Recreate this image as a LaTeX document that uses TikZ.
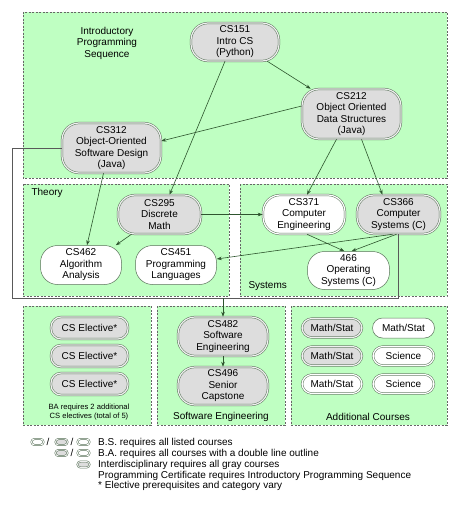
\documentclass[tikz,border=0pt]{standalone}
\usepackage{fontspec}
\setmainfont{Liberation Sans}
\usetikzlibrary{arrows.meta}
\definecolor{zonegreen}{HTML}{BFFFC2}
\definecolor{coursegray}{HTML}{DDDDDD}
\definecolor{outline}{HTML}{5A735A}
\definecolor{prereq}{HTML}{2E552E}
\begin{document}
\begin{tikzpicture}[x=1pt, y=-1pt,
		font=\fontsize{10}{11.5}\selectfont,
		zone/.style={fill=zonegreen, draw=black!60, line width=0.8pt, dash pattern=on 2pt off 1.5pt},
		course/.style={draw=outline, line width=0.5pt, rounded corners=17pt, align=center, inner sep=0pt},
		plain/.style={course, fill=white},
		core/.style={course, fill=coursegray, double=coursegray!45, double distance=1.2pt},
		twin/.style={course, fill=white, double=white, double distance=1.2pt},
		small/.style={rounded corners=10pt},
		icon/.style={rounded corners=3pt, minimum width=12pt, minimum height=6pt, double distance=0.9pt},
		prereq/.style={draw=prereq, line width=0.6pt, -{Stealth[length=5pt, width=3.6pt]}},
		route/.style={draw=black!65, line width=0.9pt}]
	\useasboundingbox (0,0) rectangle (474,508);

	\draw[zone] (23,12) rectangle (447,178);
	\draw[zone] (23,184) rectangle (229,296);
	\draw[zone] (240,184) rectangle (447,296);
	\draw[zone] (23,306) rectangle (151,425);
	\draw[zone] (157,306) rectangle (285,425);
	\draw[zone] (291,306) rectangle (447,425);

	\node[align=center] (introlbl) at (107,43) {Introductory\\Programming\\Sequence};
	\node[anchor=west] (theorylbl) at (28,193) {Theory};
	\node[anchor=west] (syslbl) at (245,286) {Systems};
	\node[align=center, font=\fontsize{7.6}{9.5}\selectfont] (banote) at (89,412) {BA requires 2 additional\\CS electives (total of 5)};
	\node (selbl) at (221,417) {Software Engineering};
	\node (addlbl) at (368,417) {Additional Courses};

	\node[core, minimum width=88pt, minimum height=38pt] (cs151) at (235,42) {CS151\\Intro CS\\(Python)};
	\node[core, minimum width=99pt, minimum height=50pt] (cs212) at (351.5,114) {CS212\\Object Oriented\\Data Structures\\(Java)};
	\node[core, minimum width=99pt, minimum height=50pt] (cs312) at (111.5,148) {CS312\\Object-Oriented\\Software Design\\(Java)};
	\node[core, minimum width=83pt, minimum height=39pt] (cs295) at (159.5,214.5) {CS295\\Discrete\\Math};
	\node[twin, minimum width=82pt, minimum height=39pt] (cs371) at (304,214.5) {CS371\\Computer\\Engineering};
	\node[core, minimum width=83pt, minimum height=39pt] (cs366) at (398.5,214.5) {CS366\\Computer\\Systems (C)};
	\node[plain, minimum width=81pt, minimum height=39pt] (cs462) at (81,265) {CS462\\Algorithm\\Analysis};
	\node[plain, minimum width=81pt, minimum height=39pt] (cs451) at (176,265) {CS451\\Programming\\Languages};
	\node[plain, minimum width=82pt, minimum height=38pt] (os466) at (348.5,270.5) {466\\Operating\\Systems (C)};

	\foreach \y [count=\i] in {328,356,384} {
		\node[core, small, minimum width=77pt, minimum height=22pt] (elective\i) at (89.5,\y) {CS Elective*};
	}

	\node[core, minimum width=90pt, minimum height=39pt] (cs482) at (223,336.5) {CS482\\Software\\Engineering};
	\node[core, minimum width=90pt, minimum height=38pt] (cs496) at (223,386) {CS496\\Senior\\Capstone};

	\node[core, small, minimum width=60pt, minimum height=19pt] (math1) at (332,328) {Math/Stat};
	\node[core, small, minimum width=60pt, minimum height=19pt] (math2) at (332,356) {Math/Stat};
	\node[twin, small, minimum width=60pt, minimum height=19pt] (math3) at (332,384) {Math/Stat};
	\node[plain, small, minimum width=62pt, minimum height=20pt] (math4) at (403.5,328) {Math/Stat};
	\node[twin, small, minimum width=61pt, minimum height=19pt] (sci1) at (403.5,356) {Science};
	\node[twin, small, minimum width=61pt, minimum height=19pt] (sci2) at (403.5,384) {Science};

	\draw[prereq] ([xshift=-12pt]cs151.south east) -- ([xshift=9pt]cs212.north west);
	\draw[prereq] ([xshift=-10pt]cs151.south) -- ([xshift=10pt]cs295.north);
	\draw[prereq] ([yshift=8pt]cs212.west) -- ([yshift=7pt]cs312.east);
	\draw[prereq] ([xshift=-15pt]cs212.south) -- ([xshift=3pt]cs371.north);
	\draw[prereq] ([xshift=10pt]cs212.south) -- ([xshift=-16pt]cs366.north);
	\draw[prereq] ([xshift=-8pt]cs312.south) -- ([xshift=6pt]cs462.north);
	\draw[prereq] ([xshift=-28pt]cs295.south) -- ([xshift=-6pt]cs462.north east);
	\draw[prereq] (cs295.east) -- (cs371.west);
	\draw[prereq] ([xshift=3pt]cs371.south) -- ([xshift=-4pt]os466.north);
	\draw[prereq] ([xshift=-2pt]cs366.south) -- ([xshift=3pt]os466.north);
	\draw[prereq] ([xshift=-6pt]cs366.south) -- ([yshift=6pt]cs451.east);

	\coordinate (bend) at (12,298);
	\coordinate (join) at (223,298);
	\draw[route] (cs312.west) -| (bend) -| (cs366.south);
	\draw[prereq] (join) -- (cs482.north);
	\draw[prereq] (cs482.south) -- (cs496.north);

	% legend
	\node[plain, icon] (keyplain) at (37.5,442) {};
	\node (slash1) at (48,442) {/};
	\node[core, icon] (keycore1) at (61.5,442) {};
	\node (slash2) at (72,442) {/};
	\node[twin, icon] (keytwin1) at (83.5,442) {};
	\node[core, icon] (keycore2) at (61.5,453) {};
	\node (slash3) at (72,453) {/};
	\node[twin, icon] (keytwin2) at (83.5,453) {};
	\node[core, icon] (keycore3) at (83.5,464.5) {};
	\foreach \txt [count=\i] in {{B.S. requires all listed courses}, {B.A. requires all courses with a double line outline}, {Interdisciplinary requires all gray courses}, {Programming Certificate requires Introductory Programming Sequence}, {* Elective prerequisites and category vary}} {
		\node[anchor=west, inner sep=0pt] (note\i) at (98,432.5+10.75*\i) {\txt};
	}
\end{tikzpicture}
\end{document}
